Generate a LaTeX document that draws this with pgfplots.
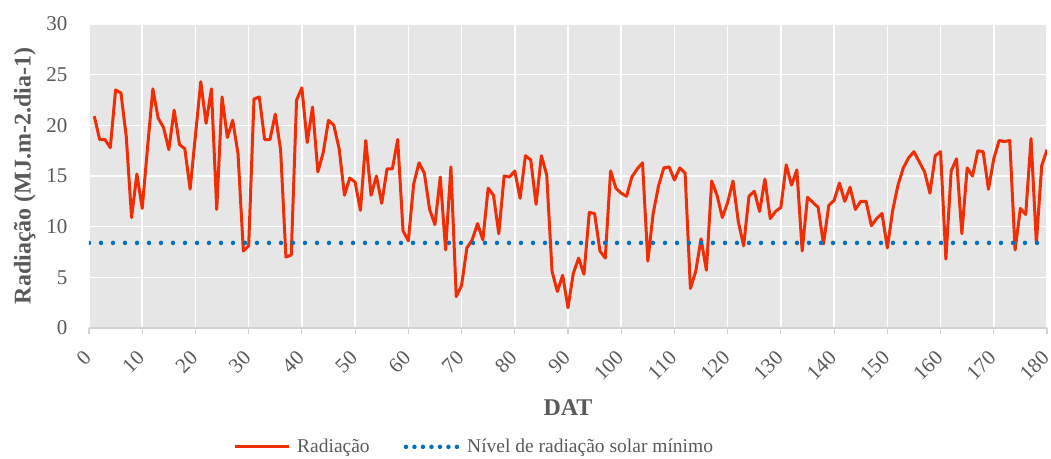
\documentclass[border=0pt]{standalone}
\usepackage{fontspec}
\setmainfont{Liberation Serif}
\usepackage{pgfplots}
\pgfplotsset{compat=1.18}
\definecolor{radred}{RGB}{240,45,5}
\definecolor{minblue}{RGB}{0,112,192}
\definecolor{bggray}{RGB}{230,230,230}
\definecolor{txtgray}{RGB}{89,89,89}
\definecolor{axgray}{RGB}{210,210,210}
\begin{document}
\begin{tikzpicture}
\useasboundingbox (-89bp,-131bp) rectangle (962bp,328bp);
\begin{axis}[
  scale only axis, width=958bp, height=304bp,
  xmin=0, xmax=180, ymin=0, ymax=30,
  xtick={0,10,...,180}, ytick={0,5,...,30},
  axis background/.style={fill=bggray},
  grid=major, major grid style={white, line width=1.5bp},
  axis x line*=bottom, axis y line*=left,
  x axis line style={axgray, line width=1.2bp, -},
  y axis line style={draw=none, -},
  xtick style={axgray, line width=1.2bp}, ytick style={draw=none},
  tick align=outside, major tick length=6bp,
  /pgf/number format/assume math mode=true,
  ticklabel style={font=\fontsize{21bp}{24bp}\selectfont, text=txtgray},
  xticklabel style={yshift=-18bp, xshift=1bp, rotate=45, anchor=east},
  yticklabel style={xshift=-12bp},
  xlabel={DAT}, ylabel={Radiação (MJ.m-2.dia-1)},
  label style={font=\bfseries\fontsize{24bp}{28bp}\selectfont, text=txtgray},
  xlabel style={at={(axis description cs:0.5,-0.263)}, anchor=center},
  ylabel style={at={(axis description cs:-0.067,0.5)}, anchor=center},
  legend style={at={(axis description cs:0.402,-0.391)}, anchor=center, draw=none, fill=none,
    font=\fontsize{19.5bp}{22bp}\selectfont, text=txtgray, legend columns=2,
    /tikz/every even column/.append style={column sep=32bp}},
  legend cell align=left,
]
\addplot[radred, line width=3bp, line join=round, no marks,
  legend image code/.code={\draw[radred, line width=3bp] (0bp,0bp) -- (54bp,0bp); \path (59bp,0bp);}]
  table {
x y
1 20.9
2 18.6
3 18.6
4 17.8
5 23.5
6 23.2
7 18.9
8 10.9
9 15.2
10 11.8
11 17.8
12 23.6
13 20.7
14 19.8
15 17.6
16 21.5
17 18.1
18 17.7
19 13.7
20 19.0
21 24.3
22 20.2
23 23.6
24 11.7
25 22.8
26 18.8
27 20.5
28 17.2
29 7.6
30 8.1
31 22.6
32 22.8
33 18.6
34 18.6
35 21.1
36 17.6
37 7.0
38 7.2
39 22.5
40 23.7
41 18.3
42 21.8
43 15.4
44 17.3
45 20.5
46 20.0
47 17.7
48 13.1
49 14.8
50 14.4
51 11.6
52 18.5
53 13.1
54 15.0
55 12.3
56 15.7
57 15.7
58 18.6
59 9.6
60 8.6
61 14.2
62 16.3
63 15.3
64 11.7
65 10.2
66 14.9
67 7.7
68 15.9
69 3.1
70 4.2
71 7.9
72 8.7
73 10.3
74 8.7
75 13.8
76 13.1
77 9.3
78 15.0
79 14.9
80 15.5
81 12.8
82 17.0
83 16.6
84 12.2
85 17.0
86 15.1
87 5.6
88 3.6
89 5.2
90 2.0
91 5.4
92 6.9
93 5.3
94 11.4
95 11.3
96 7.6
97 6.9
98 15.5
99 13.8
100 13.3
101 13.0
102 14.9
103 15.7
104 16.3
105 6.6
106 11.3
107 14.0
108 15.8
109 15.9
110 14.6
111 15.8
112 15.3
113 3.9
114 5.6
115 8.8
116 5.7
117 14.5
118 13.1
119 10.9
120 12.4
121 14.5
122 10.5
123 8.1
124 13.0
125 13.5
126 11.5
127 14.7
128 10.8
129 11.5
130 11.9
131 16.1
132 14.1
133 15.6
134 7.6
135 12.9
136 12.4
137 11.9
138 8.3
139 12.1
140 12.6
141 14.3
142 12.5
143 13.9
144 11.7
145 12.5
146 12.5
147 10.1
148 10.8
149 11.3
150 7.9
151 11.6
152 14.1
153 15.8
154 16.8
155 17.4
156 16.4
157 15.4
158 13.3
159 17.0
160 17.4
161 6.8
162 15.5
163 16.7
164 9.3
165 15.8
166 15.0
167 17.5
168 17.4
169 13.7
170 16.7
171 18.5
172 18.4
173 18.5
174 7.7
175 11.8
176 11.2
177 18.7
178 8.4
179 16.0
180 17.6
};
\addlegendentry{Radiação}
\addplot[minblue, line width=4.5bp, line cap=round, dash pattern=on 0bp off 12bp, no marks,
  legend image code/.code={\draw[minblue, line width=4.5bp, line cap=round, dash pattern=on 0bp off 8.5bp] (2bp,0bp) -- (54bp,0bp); \path (59bp,0bp);}]
  coordinates {(0,8.4) (180,8.4)};
\addlegendentry{Nível de radiação solar mínimo}
\end{axis}
\end{tikzpicture}
\end{document}
